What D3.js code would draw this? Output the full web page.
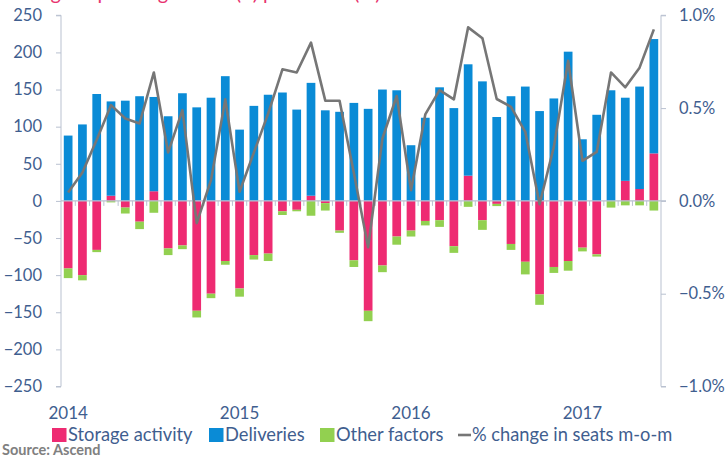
<!DOCTYPE html>
<html>
<head>
<meta charset="utf-8">
<script src="https://cdnjs.cloudflare.com/ajax/libs/d3/7.8.5/d3.min.js"></script>
<style>
  body { margin: 0; background: #fff; }
  svg { display: block; font-family: Lato, "Open Sans", sans-serif; }
</style>
</head>
<body>
<div id="chart"></div>
<script>
// monthly categories, Jan 2014 .. Jun 2017
const months = [
    "2014-01", "2014-02", "2014-03", "2014-04", "2014-05", "2014-06", "2014-07", "2014-08", "2014-09", "2014-10", "2014-11", "2014-12",
    "2015-01", "2015-02", "2015-03", "2015-04", "2015-05", "2015-06", "2015-07", "2015-08", "2015-09", "2015-10", "2015-11", "2015-12",
    "2016-01", "2016-02", "2016-03", "2016-04", "2016-05", "2016-06", "2016-07", "2016-08", "2016-09", "2016-10", "2016-11", "2016-12",
    "2017-01", "2017-02", "2017-03", "2017-04", "2017-05", "2017-06"
];
const yearTicks = ["2014-01", "2015-01", "2016-01", "2017-01"];

const storage = [
    -91, -100, -66, 7, -9, -28, 13, -64, -60, -148, -125, -81,
    -118, -73, -71, -14, -12, 7, -3, -40, -80, -148, -87, -48,
    -40, -27, -26, -61, 34, -26, -4, -58, -82, -126, -89, -81,
    -63, -72, 0, 27, 16, 64
];
const deliveries = [
    88, 103, 144, 127, 135, 141, 127, 114, 145, 126, 139, 168,
    96, 128, 143, 146, 123, 152, 122, 120, 132, 124, 150, 149,
    75, 112, 153, 125, 150, 161, 113, 141, 154, 121, 138, 201,
    83, 116, 149, 112, 138, 154
];
const other = [
    -13, -7, -3, -2, -8, -10, -16, -9, -5, -9, -6, -5,
    -11, -6, -10, -5, -2, -20, -10, -3, -9, -14, -9, -11,
    -8, -6, -9, -9, -8, -13, -3, -8, -17, -14, -8, -13,
    -5, -3, -9, -6, -6, -13
];
// % change in seats m-o-m (percent)
const seatsChange = [
    0.045, 0.153, 0.33, 0.516, 0.444, 0.417, 0.692, 0.261, 0.489, -0.12, 0.112, 0.547,
    0.049, 0.26, 0.47, 0.709, 0.692, 0.853, 0.54, 0.54, 0.15, -0.25, 0.336, 0.565,
    0.058, 0.466, 0.597, 0.547, 0.935, 0.876, 0.549, 0.507, 0.372, -0.018, 0.291, 0.755,
    0.216, 0.264, 0.692, 0.612, 0.718, 0.924
];

const leftTicks = [-250, -200, -150, -100, -50, 0, 50, 100, 150, 200, 250];
const rightTicks = [-1, -0.5, 0, 0.5, 1];

const width = 725, height = 457;
const plotLeft = 61, plotRight = 661, plotTop = 15.3, plotBottom = 386.5;
const textColor = "#3F5E8F";
const axisColor = "#B9C1D0";
const colors = { storage: "#EE2B72", deliveries: "#0A8BD6", other: "#92D050" };

const rows = months.map((m, i) => ({
    month: m,
    storage: storage[i],
    deliveries: deliveries[i],
    other: other[i]
}));

const series = d3.stack()
    .keys(["storage", "deliveries", "other"])
    .offset(d3.stackOffsetDiverging)(rows);

const x = d3.scaleBand().domain(months).range([plotLeft, plotRight]).paddingInner(0.39).paddingOuter(0.195);
const xCat = d3.scaleBand().domain(months).range([plotLeft, plotRight]);
const y = d3.scaleLinear().domain([-250, 250]).range([plotBottom, plotTop]);
const y2 = d3.scaleLinear().domain([-1, 1]).range([plotBottom, plotTop]);

const svg = d3.select("#chart").append("svg")
    .attr("width", width)
    .attr("height", height)
    .attr("viewBox", [0, 0, width, height]);

// title sits mostly above the frame, only descenders show
svg.append("text")
    .attr("x", 5)
    .attr("y", -0.5)
    .attr("fill", "#E8336F")
    .attr("font-size", 20)
    .text("Change in passenger fleet (#) plus seats (%)");

// bars
svg.append("g")
    .selectAll("g")
    .data(series)
    .join("g")
    .attr("fill", d => colors[d.key])
    .selectAll("rect")
    .data(d => d)
    .join("rect")
    .attr("x", d => x(d.data.month))
    .attr("width", x.bandwidth())
    .attr("y", d => y(d[1]))
    .attr("height", d => y(d[0]) - y(d[1]));

// left axis
svg.append("g")
    .attr("transform", `translate(${plotLeft},0)`)
    .call(d3.axisLeft(y).tickValues(leftTicks).tickSize(5).tickPadding(14))
    .call(g => g.selectAll(".domain, .tick line").attr("stroke", axisColor))
    .call(g => g.selectAll(".domain").attr("d", `M-5,${plotTop}H0V${plotBottom}H-5`))
    .call(g => g.selectAll("text").attr("fill", textColor).attr("font-size", 16.5).attr("font-family", "Lato"));

// right axis
svg.append("g")
    .attr("transform", `translate(${plotRight},0)`)
    .call(d3.axisRight(y2).tickValues(rightTicks).tickSize(5).tickPadding(13).tickFormat(d => d3.format(".1f")(d) + "%"))
    .call(g => g.selectAll(".domain, .tick line").attr("stroke", axisColor))
    .call(g => g.selectAll(".domain").attr("d", `M5,${plotTop}H0V${plotBottom}H5`))
    .call(g => g.selectAll("text").attr("fill", textColor).attr("font-size", 16.5).attr("font-family", "Lato"));

// category axis on zero line, ticks between categories
const zeroAxis = svg.append("g");
zeroAxis.append("line")
    .attr("x1", plotLeft).attr("x2", plotRight + 5)
    .attr("y1", y(0)).attr("y2", y(0))
    .attr("stroke", axisColor).attr("stroke-width", 1.2);
zeroAxis.selectAll("line.tk")
    .data(months.slice(1))
    .join("line")
    .attr("class", "tk")
    .attr("x1", d => xCat(d)).attr("x2", d => xCat(d))
    .attr("y1", y(0)).attr("y2", y(0) + 5)
    .attr("stroke", axisColor);

// year labels along the bottom
svg.append("g")
    .selectAll("text")
    .data(yearTicks)
    .join("text")
    .attr("x", d => x(d) + x.bandwidth() / 2)
    .attr("y", 419)
    .attr("text-anchor", "middle")
    .attr("fill", textColor)
    .attr("font-size", 17)
    .text(d => d.slice(0, 4));

// seats line
const line = d3.line()
    .x((d, i) => x(months[i]) + x.bandwidth() / 2)
    .y(d => y2(d));

svg.append("path")
    .datum(seatsChange)
    .attr("fill", "none")
    .attr("stroke", "#767676")
    .attr("stroke-width", 2.6)
    .attr("stroke-linejoin", "round")
    .attr("d", line);

// legend
const legend = svg.append("g").attr("font-size", 18.3).attr("fill", textColor);
const legendItems = [
    { label: "Storage activity", color: colors.storage, x: 52, type: "box" },
    { label: "Deliveries", color: colors.deliveries, x: 209, type: "box" },
    { label: "Other factors", color: colors.other, x: 320, type: "box" },
    { label: "% change in seats m-o-m", color: "#767676", x: 458, type: "line" }
];
legendItems.forEach(item => {
    if (item.type === "box") {
        legend.append("rect")
            .attr("x", item.x).attr("y", 428)
            .attr("width", 14.5).attr("height", 14)
            .attr("fill", item.color);
    } else {
        legend.append("line")
            .attr("x1", item.x).attr("x2", item.x + 13)
            .attr("y1", 435).attr("y2", 435)
            .attr("stroke", item.color).attr("stroke-width", 2.6);
    }
    legend.append("text")
        .attr("x", item.x + (item.type === "box" ? 16 : 14))
        .attr("y", 441)
        .text(item.label);
});

svg.append("text")
    .attr("x", 2)
    .attr("y", 455)
    .attr("fill", "#808080")
    .attr("font-size", 14.5)
    .attr("font-weight", "bold")
    .text("Source: Ascend");
</script>
</body>
</html>
